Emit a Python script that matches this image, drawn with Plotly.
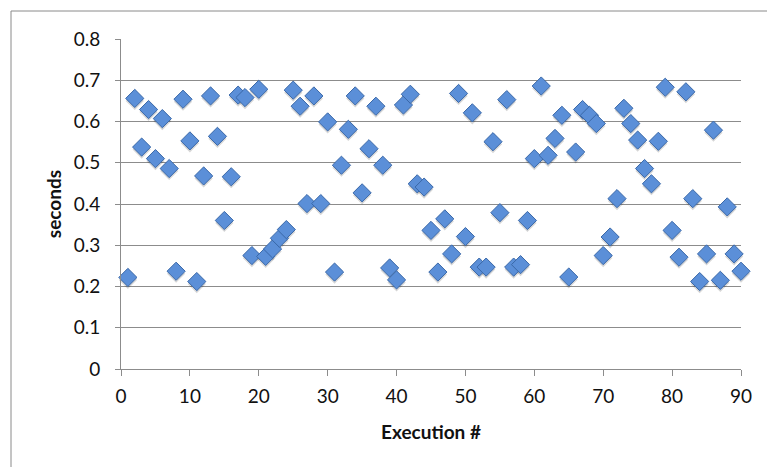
import plotly.graph_objects as go

# Execution number and measured run time (seconds)
execution = list(range(1, 91))
seconds = [
    0.222, 0.656, 0.538, 0.629, 0.510, 0.607, 0.486, 0.237, 0.654, 0.553,
    0.212, 0.468, 0.662, 0.564, 0.360, 0.466, 0.664, 0.658, 0.275, 0.678,
    0.273, 0.291, 0.317, 0.338, 0.676, 0.637, 0.401, 0.662, 0.401, 0.599,
    0.235, 0.494, 0.581, 0.662, 0.427, 0.534, 0.637, 0.494, 0.245, 0.216,
    0.640, 0.666, 0.449, 0.441, 0.336, 0.235, 0.364, 0.279, 0.668, 0.321,
    0.621, 0.247, 0.247, 0.551, 0.379, 0.653, 0.247, 0.253, 0.360, 0.510,
    0.686, 0.518, 0.559, 0.615, 0.223, 0.526, 0.629, 0.615, 0.595, 0.275,
    0.320, 0.413, 0.632, 0.595, 0.555, 0.486, 0.449, 0.552, 0.683, 0.336,
    0.271, 0.672, 0.413, 0.212, 0.279, 0.579, 0.215, 0.393, 0.279, 0.237,
]

x_ticks = [0, 10, 20, 30, 40, 50, 60, 70, 80, 90]
y_ticks = [0, 0.1, 0.2, 0.3, 0.4, 0.5, 0.6, 0.7, 0.8]
y_labels = ["0", "0.1", "0.2", "0.3", "0.4", "0.5", "0.6", "0.7", "0.8"]

FONT = "Lato, 'Open Sans', sans-serif"
GRID = "#8c8c8c"
TEXT = "#111111"

# plot area in pixels
W, H = 767, 467
L, R, T, B = 121, 741, 39, 369

fig = go.Figure()

# soft drop shadow under each marker
fig.add_trace(go.Scatter(
    x=execution, y=[v - 0.006 for v in seconds],
    mode="markers", cliponaxis=False,
    marker=dict(symbol="diamond", size=14, color="rgba(0,0,0,0.16)",
                line=dict(width=0)),
    hoverinfo="skip", showlegend=False,
))

fig.add_trace(go.Scatter(
    x=execution, y=seconds,
    mode="markers", cliponaxis=False,
    marker=dict(symbol="diamond", size=14, color="#5b8fd8",
                line=dict(color="#3a68a8", width=1)),
    showlegend=False,
))

def px_x(p):
    return (p - L) / (R - L)

def px_y(p):
    return (B - p) / (B - T)

# outer chart frame
fig.add_shape(type="rect", xref="paper", yref="paper",
              x0=px_x(11), x1=px_x(780), y0=px_y(480), y1=px_y(11),
              line=dict(color="#8a8a8a", width=1), fillcolor="rgba(0,0,0,0)",
              layer="below")

fig.update_layout(
    width=W, height=H,
    margin=dict(l=L, r=W - R, t=T, b=H - B, autoexpand=False),
    paper_bgcolor="white", plot_bgcolor="white",
    font=dict(family=FONT, size=19, color=TEXT),
)

fig.update_xaxes(
    range=[0, 90], tickvals=x_ticks, ticktext=[str(t) for t in x_ticks],
    showgrid=False, zeroline=False,
    showline=True, linecolor=GRID, linewidth=1,
    ticks="outside", ticklen=6, tickcolor=GRID, tickwidth=1,
    ticklabelstandoff=4,
    tickfont=dict(family=FONT, size=19, color=TEXT),
    title=dict(text="<b>Execution #</b>", standoff=19,
               font=dict(family=FONT, size=19, color=TEXT)),
)

fig.update_yaxes(
    range=[0, 0.8], tickvals=y_ticks, ticktext=y_labels,
    showgrid=True, gridcolor=GRID, gridwidth=1,
    zeroline=False,
    showline=True, linecolor=GRID, linewidth=1,
    ticks="outside", ticklen=5, tickcolor=GRID, tickwidth=1,
    ticklabelstandoff=11,
    tickfont=dict(family=FONT, size=19, color=TEXT),
    title=dict(text="<b>seconds</b>", standoff=7,
               font=dict(family=FONT, size=19, color=TEXT)),
)

fig.write_html("out.html")
